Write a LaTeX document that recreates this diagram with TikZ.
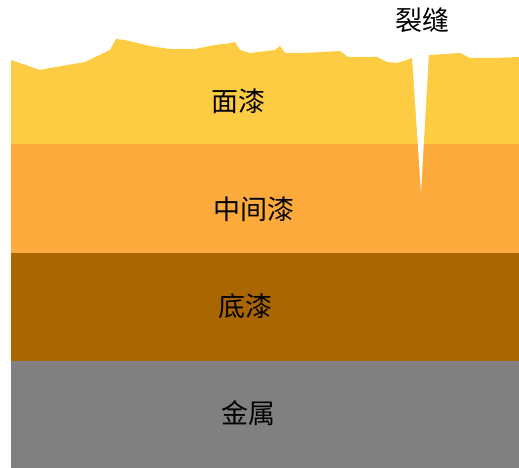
\documentclass[tikz,border=0pt]{standalone}
\usepackage{fontspec}
\usepackage{tkz-euclide}
\newfontfamily\cjk{Noto Sans CJK SC}
\definecolor{topcoat}{RGB}{254,204,66}
\definecolor{midcoat}{RGB}{253,170,60}
\definecolor{primer}{RGB}{170,102,0}
\definecolor{metal}{RGB}{128,128,128}
\tikzset{layerlabel/.style={font=\cjk\fontsize{27}{30}\selectfont, text=black, inner sep=0pt}}

\begin{document}
\begin{tikzpicture}[x=1pt,y=1pt]
\useasboundingbox (0,0) rectangle (519,468);
\tkzDefPoints{11/0/A, 519/0/B, 11/107/C, 519/107/D, 11/215/E, 519/215/F, 11/324/G, 519/324/H}
% the three coats and the metal below
\fill[metal] (A) rectangle (D);
\fill[primer] (C) rectangle (F);
\fill[midcoat] (E) rectangle (H);
\fill[topcoat] (G) -- (11,408) -- (40,398) -- (50,400) -- (85,406) -- (110,418)
  -- (116,429) -- (125,428) -- (150,422) -- (170,419) -- (195,419) -- (215,423)
  -- (225,424) -- (235,426) -- (240,418) -- (250,415) -- (275,418) -- (280,422)
  -- (285,415) -- (305,415) -- (340,417) -- (348,411) -- (377,411) -- (387,406)
  -- (397,405) -- (407,408) -- (412,410) -- (429,413) -- (460,415) -- (470,410)
  -- (493,410) -- (519,411) -- (H) -- cycle;
% crack
\tkzDefPoints{412/412/L, 421/275/T, 429/416/R}
\fill[white] (L) -- (T) -- (R) -- cycle;
\node[layerlabel] (top) at (238.5,367) {面漆};
\node[layerlabel] (mid) at (254,259) {中间漆};
\node[layerlabel] (base) at (245,162) {底漆};
\node[layerlabel] (steel) at (248,55) {金属};
\node[layerlabel] (crack) at (422,448) {裂缝};
\end{tikzpicture}
\end{document}
